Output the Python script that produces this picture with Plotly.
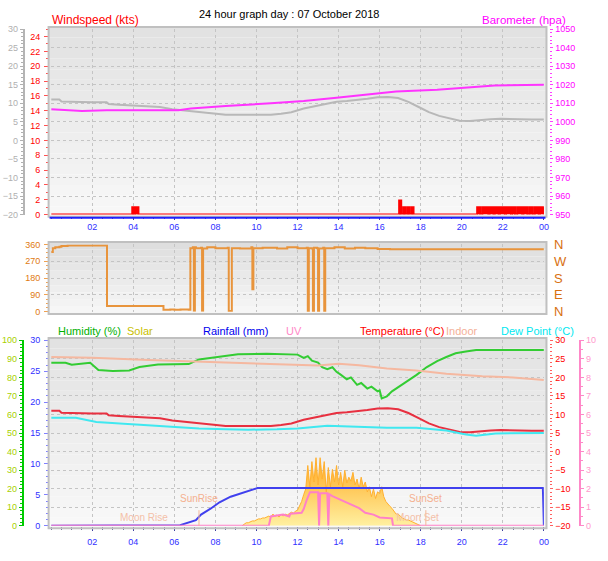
import plotly.graph_objects as go

W, H = 608, 561
def px(x): return x / W
def py(y): return 1 - y / H

# ---------------- data ----------------
tick_hours = [2, 4, 6, 8, 10, 12, 14, 16, 18, 20, 22, 24]
tick_labels = ["02", "04", "06", "08", "10", "12", "14", "16", "18", "20", "22", "00"]

temp_t = [0.0, 0.4, 0.5, 1.0, 1.5, 2.0, 2.7, 2.8, 3.3, 3.8, 4.3, 4.75, 5.3, 5.9, 6.5, 7.2, 7.8, 8.5, 9.0, 9.5,
          10.0, 10.7, 11.2, 11.7, 12.3, 12.8, 13.3, 13.9, 14.4, 14.9, 15.4, 15.9, 16.4, 16.9, 17.4, 17.9, 18.4,
          18.9, 19.4, 19.9, 20.4, 20.9, 21.4, 21.9, 22.4, 22.9, 23.4, 24.0]
temp_v = [11.0, 11.0, 10.5, 10.4, 10.4, 10.3, 10.3, 9.8, 9.6, 9.5, 9.4, 9.3, 9.0, 8.4, 8.0, 7.6, 7.3, 6.9, 6.9, 6.8,
          6.8, 6.9, 7.2, 7.6, 8.6, 9.2, 9.7, 10.4, 10.6, 11.0, 11.2, 11.6, 11.7, 11.4, 10.4, 9.0, 7.6,
          6.6, 5.9, 5.3, 5.2, 5.5, 5.7, 5.8, 5.7, 5.6, 5.6, 5.6]

baro_t = [0.0, 1.5, 2.7, 4.9, 6.2, 6.8, 8.5, 10.7, 12.3, 13.9, 15.4, 16.8, 18.8, 20.7, 21.6, 24.0]
baro_v = [1006.8, 1005.9, 1006.3, 1006.3, 1006.3, 1007.2, 1008.6, 1010.0, 1011.2, 1013.0, 1014.7, 1016.3,
          1017.3, 1018.9, 1019.6, 1020.0]

wind_t = [0.0, 3.95, 4.05, 4.1, 4.25, 16.95, 17.05, 17.15, 17.25, 17.35, 17.45, 17.55, 17.65, 17.75,
          20.75, 20.9, 21.0, 21.3, 21.35, 21.55, 21.6, 21.8, 21.85, 22.1, 22.15, 22.4, 22.45, 22.6,
          22.7, 22.95, 23.0, 23.2, 23.3, 23.45, 23.55, 23.75, 23.8, 24.0]
wind_v = [0, 1, 0, 1, 0, 1.9, 0, 1, 0, 1, 0, 1, 0, 0,
          1, 0, 1, 0, 1, 0, 1, 0, 1, 0, 1, 0, 1, 0,
          1, 0, 1, 0, 1, 0, 1, 0, 1, 0]

wdir_t = [0.0, 0.08, 0.2, 0.4, 0.5, 0.8, 2.7, 2.72, 5.45, 5.47, 5.8, 6.0, 6.3, 6.7, 6.78, 6.9, 6.95, 7.0,
          7.05, 7.3, 7.35, 7.4, 7.6, 8.0, 8.6, 8.65, 8.75, 8.8, 9.2, 9.75, 9.8, 9.85, 10.3, 11.0, 11.5,
          12.0, 12.45, 12.5, 12.55, 12.7, 12.75, 12.8, 12.95, 13.0, 13.05, 13.25, 13.3, 13.35, 13.8,
          14.3, 14.8, 15.3, 15.9, 16.5, 24.0]
wdir_v = [320, 340, 345, 348, 352, 355, 355, 30, 30, 10, 12, 10, 12, 10, 340, 345, 5, 345,
          340, 342, 5, 338, 345, 340, 342, 3, 3, 340, 338, 345, 120, 340, 342, 338, 345,
          340, 342, 2, 340, 338, 2, 342, 340, 3, 338, 342, 2, 340, 345,
          338, 342, 340, 336, 335, 335]

hum_t = [0.0, 0.7, 1.0, 1.9, 2.3, 3.0, 3.8, 4.3, 5.2, 6.7, 7.2, 8.1, 9.1, 10.5, 11.5, 12.0, 12.3, 12.5, 12.7,
         13.0, 13.2, 13.45, 13.7, 13.9, 14.1, 14.4, 14.6, 14.9, 15.1, 15.4, 15.6, 15.9, 16.0, 16.1, 16.35, 16.6,
         16.8, 17.3, 17.8, 18.3, 18.8, 19.25, 19.7, 20.2, 20.7, 24.0]
hum_v = [87.9, 87.9, 86.8, 87.9, 84.0, 83.5, 83.8, 85.6, 87.0, 87.2, 89.7, 91.0, 92.5, 92.8, 92.6, 92.3, 90.5,
         91.5, 89.0, 88.0, 85.5, 84.5, 85.5, 83.0, 81.5, 79.0, 80.0, 76.0, 77.0, 74.0, 75.0, 72.5, 73.0, 68.7,
         69.8, 72.5, 74.0, 77.7, 81.4, 85.6, 88.8, 91.0, 93.0, 94.0, 94.8, 94.8]

dew_t = [0.0, 1.2, 2.2, 3.5, 4.75, 6.0, 7.2, 8.5, 9.6, 11.0, 12.0, 13.45, 14.9, 16.35, 17.8, 19.25, 20.2,
         20.7, 21.65, 24.0]
dew_v = [9.1, 9.1, 8.0, 7.5, 7.0, 6.6, 6.2, 6.0, 5.9, 6.0, 6.2, 7.0, 6.7, 6.4, 6.4, 5.7, 4.6, 4.3, 4.9, 5.0]

indoor_t = [0.0, 2.0, 4.75, 7.0, 9.6, 12.0, 13.0, 14.0, 15.0, 16.35, 17.8, 19.25, 21.0, 22.5, 24.0]
indoor_v = [25.5, 25.3, 24.7, 24.3, 23.9, 23.5, 23.2, 23.7, 23.3, 22.4, 21.9, 21.0, 20.3, 20.0, 19.3]

rain_t = [0.0, 6.04, 6.28, 7.05, 7.3, 7.78, 8.2, 8.74, 9.4, 10.05, 23.95, 24.0]
rain_v = [0.0, 0.0, 0.1, 0.9, 1.8, 2.8, 3.8, 4.7, 5.4, 6.1, 6.1, 0.0]

solar_t = [9.3, 9.4, 9.5, 9.6, 9.7, 9.8, 9.9, 10.0, 10.1, 10.2, 10.3, 10.4, 10.5, 10.6, 10.7, 10.8, 10.9,
           11.0, 11.1, 11.2, 11.3, 11.4, 11.5, 11.6, 11.7, 11.8, 11.9, 12.0, 12.1, 12.2, 12.3, 12.4, 12.5,
           12.6, 12.7, 12.8, 12.9, 13.0, 13.1, 13.2, 13.3, 13.4, 13.5, 13.6, 13.7, 13.8, 13.9, 14.0, 14.1,
           14.2, 14.3, 14.4, 14.5, 14.6, 14.7, 14.8, 14.9, 15.0, 15.1, 15.2, 15.3, 15.4, 15.5, 15.6, 15.7,
           15.8, 15.9, 16.0, 16.1, 16.2, 16.3, 16.4, 16.5, 16.6, 16.7, 16.8, 16.9, 17.0, 17.1, 17.2, 17.3,
           17.4, 17.5, 17.6, 17.7, 17.8, 17.9, 18.0]
solar_v = [0, 10, 16, 16, 21, 26, 26, 31, 37, 37, 42, 42, 47, 52, 47, 63, 52,
           58, 47, 63, 52, 63, 58, 68, 73, 68, 79, 84, 105, 131, 168, 199, 325,
           210, 346, 236, 367, 220, 367, 252, 346, 183, 314, 210, 304, 236, 325, 220, 288,
           210, 299, 231, 262, 241, 288, 220, 252, 199, 262, 210, 236, 183, 210, 157, 199,
           147, 183, 173, 210, 157, 131, 115, 105, 94, 79, 63, 63, 52, 42, 37, 31,
           31, 26, 21, 16, 10, 5, 0]

uv_t = [0.0, 10.6, 10.7, 11.0, 11.3, 11.6, 11.65, 12.2, 12.3, 12.45, 12.6, 13.0, 13.05, 13.1, 13.45, 13.5,
        13.55, 13.7, 14.0, 14.3, 14.6, 15.0, 15.3, 15.7, 16.0, 16.6, 16.65, 24.0]
uv_v = [0.0, 0.0, 0.5, 0.55, 0.6, 0.5, 0.65, 0.7, 0.9, 1.4, 1.8, 1.8, 0.0, 1.75, 1.75, 0.0,
        1.7, 1.6, 1.45, 1.3, 1.15, 0.95, 0.7, 0.6, 0.45, 0.4, 0.0, 0.0]

sun_names = ["SunRise", "SunSet"]
sun_times = [7.2, 18.25]
moon_names = ["Moon Rise", "Moon Set"]
moon_times = [4.5, 17.85]

# ---------------- layout geometry ----------------
X_DOM = [px(51.6), px(548.4)]
TOP = [py(213.3), py(22.7)]
MID = [py(313), py(244)]
BOT = [py(533), py(342.5)]
FONT = "Liberation Sans, Arial, sans-serif"

fig = go.Figure()

# top panel
fig.add_trace(go.Scatter(x=wind_t, y=wind_v, xaxis="x", yaxis="y", mode="lines", line_shape="hv",
                         line=dict(color="#ff0000", width=2), fill="tozeroy", fillcolor="#ff0000"))
fig.add_trace(go.Scatter(x=temp_t, y=temp_v, xaxis="x", yaxis="y2", mode="lines",
                         line=dict(color="#b8b8b8", width=2)))
fig.add_trace(go.Scatter(x=baro_t, y=baro_v, xaxis="x", yaxis="y3", mode="lines",
                         line=dict(color="#ff33ff", width=2)))
# middle panel
fig.add_trace(go.Scatter(x=wdir_t, y=wdir_v, xaxis="x2", yaxis="y4", mode="lines", line_shape="hv",
                         line=dict(color="#e8943c", width=2)))
fig.add_trace(go.Scatter(x=[0], y=[0], xaxis="x2", yaxis="y5", mode="markers", marker=dict(opacity=0)))
# bottom panel (y6 humidity base, y7 solar hidden, y8 rain, y9 temperature, y10 UV)
fig.add_trace(go.Scatter(x=hum_t, y=hum_v, xaxis="x3", yaxis="y6", mode="lines",
                         line=dict(color="#33cc33", width=2)))
fig.add_trace(go.Scatter(x=solar_t, y=solar_v, xaxis="x3", yaxis="y7", mode="lines",
                         line=dict(color="#ffb030", width=1), fill="tozeroy",
                         fillgradient=dict(type="vertical", colorscale=[[0, "#fff0a0"], [1, "#ffa820"]])))
fig.add_trace(go.Scatter(x=rain_t, y=rain_v, xaxis="x3", yaxis="y8", mode="lines",
                         line=dict(color="#4040ee", width=2)))
fig.add_trace(go.Scatter(x=indoor_t, y=indoor_v, xaxis="x3", yaxis="y9", mode="lines",
                         line=dict(color="#f5b8a0", width=2)))
fig.add_trace(go.Scatter(x=temp_t, y=temp_v, xaxis="x3", yaxis="y9", mode="lines",
                         line=dict(color="#e83040", width=2)))
fig.add_trace(go.Scatter(x=dew_t, y=dew_v, xaxis="x3", yaxis="y9", mode="lines",
                         line=dict(color="#40e8f0", width=2)))
fig.add_trace(go.Scatter(x=uv_t, y=uv_v, xaxis="x3", yaxis="y10", mode="lines",
                         line=dict(color="#ff80c8", width=2)))

xcommon = dict(domain=X_DOM, range=[0, 24], tickmode="array", tickvals=tick_hours, ticktext=tick_labels,
               showgrid=True, gridcolor="#c4c4c4", griddash="dot", gridwidth=1, zeroline=False,
               showline=False, ticks="outside", ticklen=4, tickcolor="#4040a0",
               tickfont=dict(size=9, color="#3030ff", family=FONT),
               minor=dict(tickmode="linear", tick0=0, dtick=0.5, ticklen=3, tickcolor="#6060a0", showgrid=False))

def yax(rng, dom=None, **kw):
    d = dict(range=rng, zeroline=False, showgrid=False, ticks="outside", ticklen=3,
             tickfont=dict(size=9, family=FONT))
    if dom is not None:
        d["domain"] = dom
    d.update(kw)
    return d

layout = dict(
    width=W, height=H, margin=dict(l=0, r=0, t=0, b=0), showlegend=False,
    paper_bgcolor="white", plot_bgcolor="rgba(0,0,0,0)",
    font=dict(family=FONT),
    xaxis=dict(xcommon, anchor="y"),
    xaxis2=dict(xcommon, anchor="y4", showticklabels=False, ticks="", minor=dict(ticks="")),
    xaxis3=dict(xcommon, anchor="y6", ticklabelstandoff=3),
    yaxis=yax([0, 25], TOP, anchor="free", position=px(48.5), tickvals=list(range(0, 25, 2)),
              tickfont=dict(size=9, color="#ff0000", family=FONT), tickcolor="#ff5050", ticklen=4,
              ticklabelstandoff=2,
              minor=dict(dtick=1, ticklen=2, tickcolor="#ff5050")),
    yaxis2=yax([-20, 30], None, overlaying="y", anchor="free", position=px(24), dtick=5,
               tickfont=dict(size=9, color="#b0b0b0", family=FONT), tickcolor="#b0b0b0",
               showline=True, linecolor="#b4b4b4", linewidth=2,
               showgrid=True, gridcolor="#c4c4c4", griddash="dot",
               minor=dict(dtick=1, ticklen=2, tickcolor="#b0b0b0")),
    yaxis3=yax([950, 1050], None, overlaying="y", side="right", anchor="free", position=px(554), dtick=10,
               tickfont=dict(size=9, color="#ff00ff", family=FONT), tickcolor="#ff40ff",
               minor=dict(dtick=2, ticklen=2, tickcolor="#ff40ff")),
    yaxis4=yax([0, 360], MID, anchor="free", position=px(48.5), tickvals=[0, 90, 180, 270, 360],
               tickfont=dict(size=9, color="#e07a10", family=FONT), tickcolor="#f0a050", ticklen=4,
               ticklabelstandoff=2,
               showgrid=True, gridcolor="#c4c4c4", griddash="dot",
               minor=dict(dtick=22.5, ticklen=2, tickcolor="#f0a050")),
    yaxis5=yax([0, 360], None, overlaying="y4", side="right", anchor="x2",
               tickvals=[0, 90, 180, 270, 360], ticktext=["N", "E", "S", "W", "N"], ticks="",
               ticklabelstandoff=9, tickfont=dict(size=13, color="#d87010", family=FONT)),
    yaxis6=yax([0, 100], BOT, anchor="free", position=px(23), dtick=10,
               tickfont=dict(size=9, color="#a8d000", family=FONT), tickcolor="#00c800",
               showline=True, linecolor="#00cc00", linewidth=2,
               showgrid=True, gridcolor="#c4c4c4", griddash="dot",
               minor=dict(dtick=2, ticklen=2, tickcolor="#00c800")),
    yaxis7=dict(range=[0, 1000], overlaying="y6", visible=False),
    yaxis8=yax([0, 30], None, overlaying="y6", anchor="free", position=px(48.5), dtick=5,
               tickfont=dict(size=9, color="#3030ff", family=FONT), tickcolor="#8080ff", ticklen=4,
               ticklabelstandoff=2,
               minor=dict(dtick=1, ticklen=2, tickcolor="#8080ff")),
    yaxis9=yax([-20, 30], None, overlaying="y6", side="right", anchor="free", position=px(554), dtick=5,
               tickfont=dict(size=9, color="#ff0000", family=FONT), tickcolor="#ff6060",
               minor=dict(dtick=1, ticklen=2, tickcolor="#ff6060")),
    yaxis10=yax([0, 10], None, overlaying="y6", side="right", anchor="free", position=px(585), dtick=1,
                tickfont=dict(size=9, color="#ff99cc", family=FONT), tickcolor="#ff88c8",
                showline=True, linecolor="#ff88c8", linewidth=2,
                minor=dict(dtick=0.5, ticklen=2, tickcolor="#ff88c8")),
)
fig.update_layout(**layout)

# backgrounds (vertical gradient bands) and frames
shapes = []
def panel(y0, y1, c_top, c_bot, n=18):
    for i in range(n):
        f = i / (n - 1)
        c = [int(round(c_top[k] + (c_bot[k] - c_top[k]) * f)) for k in range(3)]
        ya = y0 + (y1 - y0) * i / n
        yb = y0 + (y1 - y0) * (i + 1) / n
        shapes.append(dict(type="rect", xref="paper", yref="paper", x0=px(49), x1=px(551),
                           y0=py(yb), y1=py(ya), fillcolor="rgb(%d,%d,%d)" % tuple(c),
                           line=dict(width=0), layer="below"))
    shapes.append(dict(type="rect", xref="paper", yref="paper", x0=px(49), x1=px(551),
                       y0=py(y1), y1=py(y0), line=dict(color="#c0c0c0", width=2),
                       fillcolor="rgba(0,0,0,0)", layer="above"))

panel(20.5, 215.5, (226, 226, 226), (247, 247, 247))
panel(241.5, 315.5, (222, 222, 222), (246, 246, 246), n=10)
panel(340, 535.5, (226, 226, 226), (248, 248, 248))

# blue baseline under windspeed
shapes.append(dict(type="line", xref="paper", yref="paper", x0=px(50), x1=px(550), y0=py(216.5), y1=py(216.5),
                   line=dict(color="#2020ff", width=2)))

for t in sun_times:
    shapes.append(dict(type="line", xref="x3", yref="paper", x0=t, x1=t, y0=py(533), y1=py(517),
                       line=dict(color="#f4b898", width=1)))
fig.update_layout(shapes=shapes)

ann = []
def txt(x, y, s, color, size=11, xanchor="left", xref="paper", yref="paper"):
    ann.append(dict(x=x, y=y, xref=xref, yref=yref, text=s, showarrow=False, xanchor=xanchor,
                    yanchor="middle", font=dict(size=size, color=color, family=FONT)))

txt(px(291), py(7), "24 hour graph day : 07 October 2018", "#000000", 11, "center")
txt(px(50), py(13.5), "Windspeed (kts)", "#ff0000", 12)
txt(px(573), py(13), "Barometer (hpa)", "#ff00ff", 11.5, "right")
LY = 332.5
txt(px(56.5), py(LY), "Humidity (%)", "#00b000", 11)
txt(px(126), py(LY), "Solar", "#c8c000", 11)
txt(px(202.5), py(LY), "Rainfall (mm)", "#0000ee", 11)
txt(px(286), py(LY), "UV", "#ff88c8", 11)
txt(px(361), py(LY), "Temperature (°C)", "#ff0000", 11)
txt(px(447.5), py(LY), "Indoor", "#f4b098", 11)
txt(px(503.5), py(LY), "Dew Point (°C)", "#00e8f0", 11)
for name, t in zip(sun_names, sun_times):
    ann.append(dict(x=t, y=py(513), xref="x3", yref="paper", text=name, showarrow=False,
                    font=dict(size=10, color="#f4b090", family=FONT)))
for name, t in zip(moon_names, moon_times):
    ann.append(dict(x=t, y=py(532), xref="x3", yref="paper", text=name, showarrow=False,
                    font=dict(size=10, color="#f4c0a8", family=FONT)))
fig.update_layout(annotations=ann)

fig.write_html("out.html", config={"displayModeBar": False},
               post_script="document.body.style.margin='0';document.body.style.overflow='hidden';")
